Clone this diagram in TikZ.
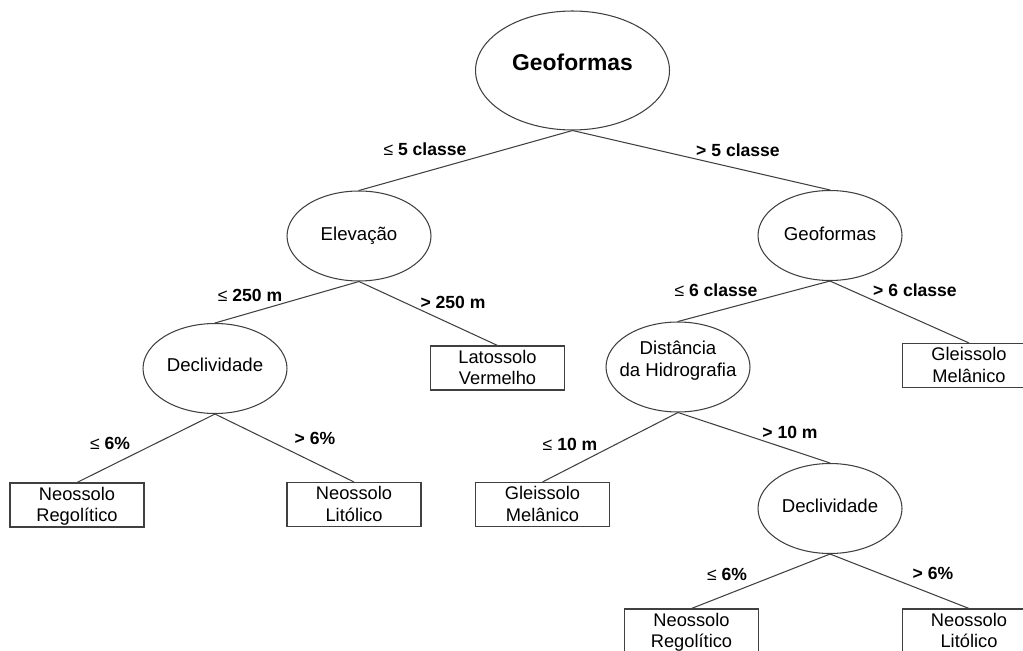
\documentclass[tikz,border=0pt]{standalone}
\usepackage{fontspec}
\setmainfont{Liberation Sans}
\usetikzlibrary{shapes.geometric}
\definecolor{linec}{HTML}{404040}
\tikzset{
  test/.style={draw=linec, line width=0.6pt, ellipse, inner sep=0pt,
    minimum width=2.88cm, minimum height=1.8cm,
    font=\fontsize{10.6}{12.5}\selectfont},
  leaf/.style={draw=linec, line width=0.6pt, rectangle, inner sep=0pt,
    minimum width=2.68cm, minimum height=0.88cm,
    font=\fontsize{10.4}{12.5}\selectfont},
  cond/.style={inner sep=0pt, font=\bfseries\fontsize{10}{12}\selectfont},
  edge/.style={draw=linec, line width=0.6pt}
}
\newcommand{\lesym}{{\mdseries ≤}}
% text of a fixed-size node: no size of its own, shifted by the optional raise
\newcommand{\ctext}[2][0cm]{\makebox[0pt][c]{\smash{\raisebox{#1}{\begin{tabular}{@{}c@{}}#2\end{tabular}}}}}
\newcommand{\leaftext}[1]{\ctext[-0.12cm]{#1}}
\begin{document}
\begin{tikzpicture}[x=0.02cm,y=-0.02cm]
\useasboundingbox (0,0) rectangle (1023,651);
\clip (0,0) rectangle (1023,651);

% decision nodes
\node[test, minimum width=3.88cm, minimum height=2.38cm,
      font=\bfseries\fontsize{13}{15}\selectfont] (root) at (572.5,70.5) {\ctext{Geoformas}};
\node[test] (elev)  at (359,236)   {\ctext[-0.1cm]{Elevação}};
\node[test] (geo)   at (830,235.5) {\ctext[-0.1cm]{Geoformas}};
\node[test] (declA) at (215,368.5) {\ctext[-0.07cm]{Declividade}};
\node[test] (dist)  at (678,367)   {\ctext[0.02cm]{Distância\\da Hidrografia}};
\node[test] (declB) at (830,508.5) {\ctext[-0.09cm]{Declividade}};

% leaves
\node[leaf] (lato)  at (497.5,368) {\leaftext{Latossolo\\Vermelho}};
\node[leaf] (gleiA) at (969,365.5) {\leaftext{Gleissolo\\Melânico}};
\node[leaf] (nregA) at (77,505)    {\leaftext{Neossolo\\Regolítico}};
\node[leaf] (nlitA) at (354,504.5) {\leaftext{Neossolo\\Litólico}};
\node[leaf] (gleiB) at (542.5,504.5) {\leaftext{Gleissolo\\Melânico}};
\node[leaf] (nregB) at (691.5,631) {\leaftext{Neossolo\\Regolítico}};
\node[leaf] (nlitB) at (969,631)   {\leaftext{Neossolo\\Litólico}};

% branches
\draw[edge] (root.south) -- (elev.north);
\draw[edge] (root.south) -- (geo.north);
\draw[edge] (elev.south) -- (declA.north);
\draw[edge] (elev.south) -- (lato.north);
\draw[edge] (declA.south) -- (nregA.north);
\draw[edge] (declA.south) -- (nlitA.north);
\draw[edge] (geo.south) -- (dist.north);
\draw[edge] (geo.south) -- (gleiA.north);
\draw[edge] (dist.south) -- (gleiB.north);
\draw[edge] (dist.south) -- (declB.north);
\draw[edge] (declB.south) -- (nregB.north);
\draw[edge] (declB.south) -- (nlitB.north);

% branch conditions
\node[cond] (c1)  at (425,149) {\lesym{} 5 classe};
\node[cond] (c2)  at (738,150) {> 5 classe};
\node[cond] (c3)  at (250,295) {\lesym{} 250 m};
\node[cond] (c4)  at (453,302) {> 250 m};
\node[cond] (c5)  at (716,290) {\lesym{} 6 classe};
\node[cond] (c6)  at (915,290) {> 6 classe};
\node[cond] (c7)  at (110,443) {\lesym{} 6\%};
\node[cond] (c8)  at (315,438) {> 6\%};
\node[cond] (c9)  at (570,444) {\lesym{} 10 m};
\node[cond] (c10) at (790,432) {> 10 m};
\node[cond] (c11) at (727,574) {\lesym{} 6\%};
\node[cond] (c12) at (933,573) {> 6\%};
\end{tikzpicture}
\end{document}
